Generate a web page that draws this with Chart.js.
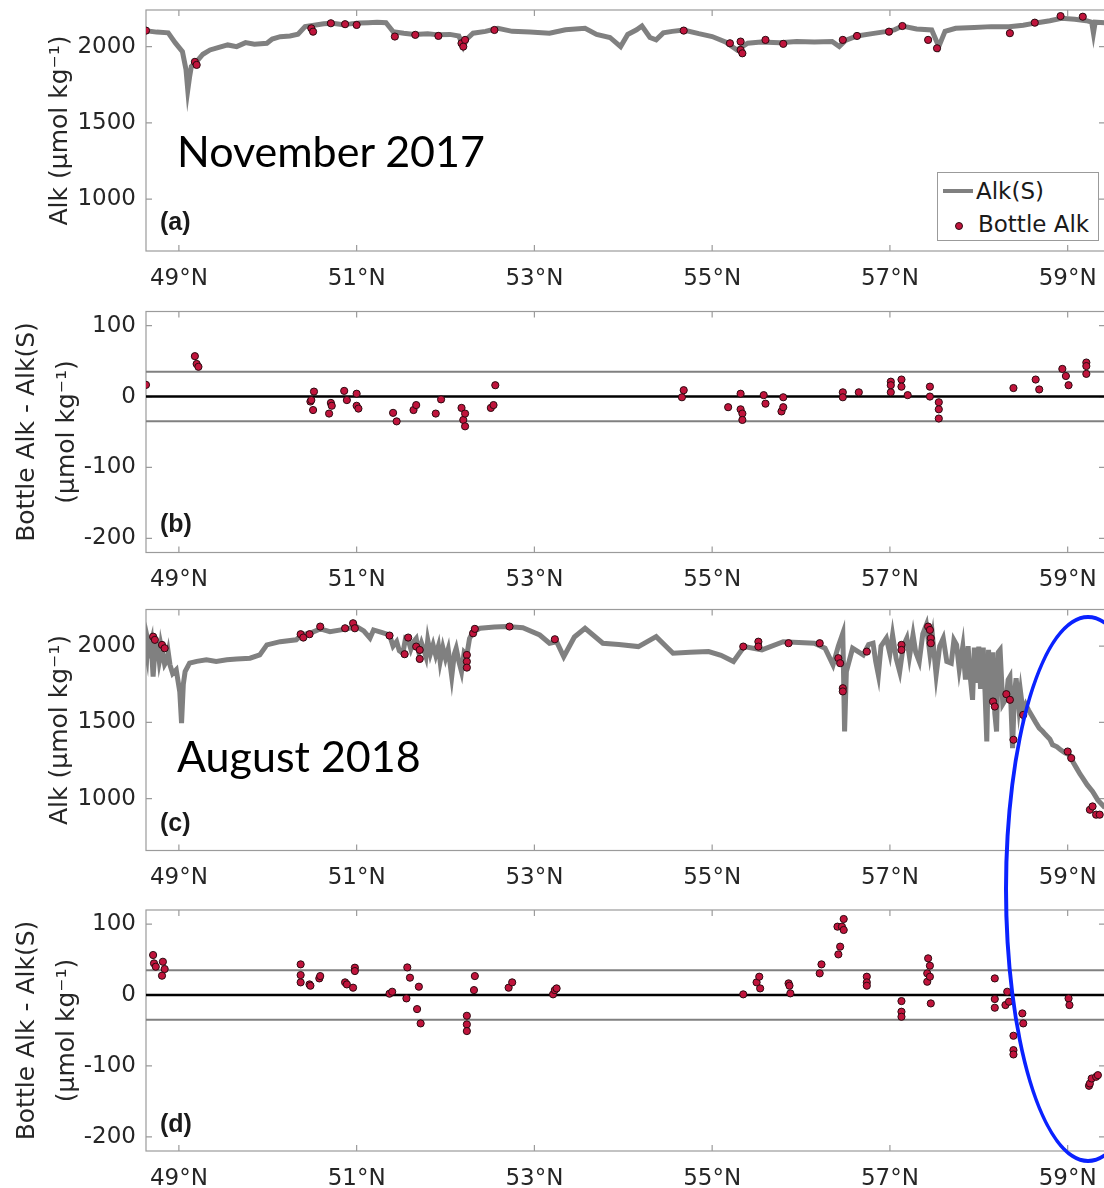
<!DOCTYPE html>
<html>
<head>
<meta charset="utf-8">
<script src="https://cdn.jsdelivr.net/npm/chart.js@4.4.1/dist/chart.umd.min.js"></script>
<style>
  html, body { margin: 0; padding: 0; background: #fff; overflow: hidden; width: 1104px; height: 1188px; }
  .panel { position: absolute; left: 0; width: 1120px; height: 300px; }
  .note { position: absolute; left: 177px; font-family: Lato, sans-serif; font-size: 43px; line-height: 1; color: #000; white-space: nowrap; }
  .tag { position: absolute; left: 160px; font-family: "Liberation Sans", Arial, sans-serif; font-weight: bold; font-size: 25px; line-height: 1; color: #1a1a1a; }
  .legend { position: absolute; left: 937px; top: 172px; width: 162px; height: 69px; box-sizing: border-box; border: 1px solid #9b9b9b; background: #fff;
            font-family: "DejaVu Sans", sans-serif; font-size: 23px; color: #1a1a1a; }
  .legend .row { position: absolute; white-space: nowrap; line-height: 1; }
  .legend .swatch { position: absolute; left: 5px; top: 16px; width: 30px; height: 4px; background: #808080; }
  .legend .dot { position: absolute; left: 17px; top: 49px; width: 6px; height: 6px; border-radius: 50%; background: #c0143c; border: 1px solid #2a0a10; }
  .ring { position: absolute; left: 1004px; top: 615px; width: 168px; height: 548px; box-sizing: border-box; border: 4px solid #0a22ff; border-radius: 50%; z-index: 5; }
</style>
</head>
<body>

<div class="panel" style="top:0px"><canvas id="panelA"></canvas></div>
<div class="panel" style="top:300px"><canvas id="panelB"></canvas></div>
<div class="panel" style="top:599px"><canvas id="panelC"></canvas></div>
<div class="panel" style="top:899px"><canvas id="panelD"></canvas></div>

<div class="note" style="top:129px">November 2017</div>
<div class="note" style="top:734px">August 2018</div>
<div class="tag" style="top:209px">(a)</div>
<div class="tag" style="top:511px">(b)</div>
<div class="tag" style="top:810px">(c)</div>
<div class="tag" style="top:1111px">(d)</div>

<div class="legend">
  <div class="swatch"></div>
  <div class="row" style="left:38px; top:7px">Alk(S)</div>
  <div class="dot"></div>
  <div class="row" style="left:40px; top:40px">Bottle Alk</div>
</div>

<div class="ring"></div>

<script>
// Ajustes globales
Chart.defaults.font.family = '"DejaVu Sans", sans-serif';
Chart.defaults.font.size = 23;
Chart.defaults.color = '#262626';
Chart.defaults.animation = false;

// Ejes
const latMin = 48.63, latMax = 59.42;
const latTicks = [49, 51, 53, 55, 57, 59];
const alkTicks = [1000, 1500, 2000];
const alkRange = [660, 2240];
const diffTicks = [-200, -100, 0, 100];
const diffRange = [-220, 120];
const zeroLine = [0, 0];
const bandUpper = [35, 35];
const bandLower = [-35, -35];
const lineEnds = [latMin, latMax];

// Noviembre 2017: Alk(S) a lo largo del transecto
const novLat = [48.62, 48.75, 48.88, 48.96, 49.04, 49.08, 49.10, 49.12, 49.14, 49.20, 49.27, 49.35, 49.45, 49.55, 49.65, 49.75, 49.85, 49.99,
  50.05, 50.14, 50.25, 50.34, 50.42, 50.54, 50.63, 50.73, 50.83, 50.93, 51.03, 51.13, 51.23, 51.33, 51.38, 51.41, 51.53, 51.65, 51.80,
  51.92, 52.05, 52.15, 52.20, 52.24, 52.31, 52.45, 52.59, 52.75, 52.95, 53.17, 53.35, 53.57, 53.70, 53.85, 53.97, 54.05, 54.15, 54.21,
  54.30, 54.37, 54.45, 54.55, 54.68, 54.85, 55.00, 55.15, 55.28, 55.40, 55.55, 55.76, 55.95, 56.15, 56.35, 56.43, 56.50, 56.63, 56.80,
  56.95, 57.05, 57.14, 57.30, 57.47, 57.55, 57.62, 57.74, 57.95, 58.14, 58.34, 58.50, 58.66, 58.80, 58.93, 59.08, 59.21, 59.27, 59.29,
  59.31, 59.42];
const novAlk = [2105, 2095, 2090, 2024, 1967, 1850, 1716, 1800, 1869, 1902, 1950, 1978, 1995, 2011, 2000, 2026, 2015, 2022,
  2050, 2065, 2070, 2081, 2131, 2142, 2150, 2153, 2145, 2149, 2155, 2157, 2160, 2157, 2120, 2098, 2088, 2080, 2085,
  2077, 2080, 2070, 2000, 2050, 2088, 2100, 2120, 2100, 2095, 2088, 2110, 2120, 2080, 2060, 2000, 2080, 2110, 2135,
  2060, 2044, 2090, 2100, 2109, 2085, 2066, 2030, 1978, 2022, 2030, 2026, 2033, 2030, 2033, 2000, 2040, 2070, 2085,
  2098, 2110, 2135, 2115, 2109, 2000, 2100, 2120, 2125, 2131, 2131, 2140, 2157, 2170, 2186, 2180, 2170, 2160, 2088,
  2160, 2157];

// Noviembre 2017: Alk de botella
const novBottleLat = [48.63, 49.18, 49.20, 50.49, 50.51, 50.71, 50.87, 51.00, 51.43, 51.66, 51.92, 52.18, 52.20, 52.22, 52.55,
  54.68, 55.20, 55.32, 55.32, 55.34, 55.60, 55.80, 56.47, 56.63, 56.99, 57.14, 57.43, 57.53, 58.35, 58.63, 58.92, 59.17];
const novBottleAlk = [2105, 1900, 1880, 2120, 2098, 2153, 2147, 2142, 2066, 2077, 2070, 2022, 2000, 2044, 2109,
  2105, 2022, 2033, 1978, 1956, 2044, 2018, 2044, 2070, 2098, 2135, 2044, 1989, 2088, 2157, 2200, 2196];

// Noviembre 2017: Alk de botella - Alk(S)
const novDiffLat = [48.63, 49.18, 49.20, 49.22, 50.48, 50.49, 50.51, 50.52, 50.69, 50.71, 50.72, 50.86, 50.89, 51.00, 51.00, 51.02,
  51.41, 51.45, 51.64, 51.67, 51.89, 51.95, 52.18, 52.20, 52.22, 52.22, 52.51, 52.54, 52.56, 54.66, 54.68, 55.18, 55.32, 55.32,
  55.34, 55.34, 55.58, 55.60, 55.78, 55.80, 55.80, 56.47, 56.47, 56.65, 57.01, 57.01, 57.01, 57.13, 57.13, 57.20, 57.45, 57.45,
  57.55, 57.55, 57.55, 58.39, 58.64, 58.68, 58.94, 58.98, 59.01, 59.21, 59.21, 59.21];
const novDiff = [16.5, 57, 46, 42, -7, -5, -19, 7, -24, -9, -13, 8, -5, 4, -13, -17,
  -23, -35, -19, -12, -24, -4, -16, -33, -24, -42, -16, -12, 16, -1, 9, -15, 4, -18,
  -24, -33, 2, -10, -21, -1, -15, 6, -1, 6, 21, 16, 6, 24, 14, 2, 14, 0,
  -8, -18, -31, 12, 24, 10, 39, 29, 16, 48, 43, 32];

// Agosto 2018: Alk(S) a lo largo del transecto
const augLat = [48.62, 48.64, 48.65, 48.67, 48.69, 48.70, 48.71, 48.73, 48.74, 48.76, 48.78, 48.79, 48.80, 48.82, 48.84, 48.86,
  48.88, 48.90, 48.93, 48.97, 49.01, 49.03, 49.05, 49.07,
  49.12, 49.20, 49.31, 49.42, 49.54, 49.65, 49.80, 49.91, 49.99, 50.14, 50.32, 50.38, 50.50, 50.59, 50.70, 50.89, 51.00, 51.08,
  51.15, 51.19, 51.28, 51.37, 51.41, 51.45, 51.48, 51.52, 51.55, 51.58, 51.61, 51.64, 51.67, 51.70, 51.73, 51.75, 51.78, 51.80,
  51.83, 51.86, 51.89, 51.92, 51.94, 51.97, 52.00, 52.03, 52.07, 52.10, 52.12, 52.15, 52.18, 52.21, 52.24, 52.27,
  52.31, 52.39, 52.55, 52.69, 52.87, 53.06, 53.17, 53.25, 53.33, 53.45, 53.57, 53.77, 53.95, 54.17, 54.37, 54.56, 54.75, 54.96,
  55.10, 55.24, 55.36, 55.56, 55.80, 56.15, 56.27, 56.36, 56.42, 56.47, 56.49, 56.51, 56.58,
  56.70, 56.76, 56.81, 56.84, 56.87, 56.90, 56.96, 57.00, 57.03, 57.07, 57.11, 57.15, 57.19, 57.22, 57.26, 57.29, 57.33, 57.37,
  57.41, 57.45, 57.48, 57.52, 57.56, 57.60, 57.64, 57.69, 57.72, 57.75, 57.78, 57.82, 57.85, 57.88, 57.90, 57.93, 57.95, 57.97,
  58.00, 58.02, 58.05, 58.07, 58.09, 58.11, 58.13, 58.16, 58.18, 58.20, 58.22, 58.24, 58.27, 58.31, 58.33, 58.35, 58.38, 58.40,
  58.42, 58.45, 58.47, 58.50, 58.53, 58.56, 58.60, 58.64, 58.68, 58.72, 58.75, 58.80, 58.83, 58.88, 58.92, 58.97, 59.02, 59.06,
  59.10, 59.14, 59.17, 59.22, 59.28, 59.34, 59.42];
const augAlk = [2008, 1940, 2040, 1986, 2030, 1900, 1800, 1964, 2030, 2010, 1900, 1930, 2000, 1942, 1880, 1900,
  1960, 1877, 1820, 1844, 1700, 1495, 1750, 1833,
  1888, 1900, 1910, 1900, 1910, 1915, 1921, 1942, 2008, 2029, 2041, 2073, 2090, 2113, 2095, 2113, 2128, 2100,
  2052, 2106, 2090, 2073, 2000, 2030, 1970, 1953, 2050, 2040, 1980, 2029, 2050, 1960, 2020, 1986, 1930, 2040,
  1950, 2008, 1940, 2000, 1899, 1990, 1920, 1980, 1800, 1950, 1986, 1900, 1833, 1960, 1942, 2050,
  2095, 2117, 2125, 2128, 2121, 2073, 2019, 2029, 1931, 2060, 2117, 2019, 2010, 1997, 2062, 1953, 1960, 1964,
  1940, 1899, 1997, 1975, 2029, 2019, 1986, 1877, 2000, 2084, 1440, 1833, 1986,
  1942, 2010, 2019, 1900, 1811, 2000, 2052, 1950, 2073, 1920, 1833, 2000, 2052, 1930, 2073, 1960, 1899, 2080,
  2139, 1950, 2060, 1811, 2000, 2052, 1900, 1888, 2040, 2008, 1850, 1997, 1780, 2000, 1820, 1648, 1990, 1760,
  1997, 1720, 1990, 1700, 1375, 1975, 1650, 1960, 1560, 1440, 1960, 1975, 1620, 1659, 1780, 1800, 1331, 1680,
  1790, 1600, 1700, 1560, 1615, 1580, 1540, 1500, 1462, 1440, 1420, 1390, 1353, 1340, 1320, 1300, 1287, 1240,
  1200, 1160, 1135, 1090, 1047, 990, 940];

// Agosto 2018: Alk de botella
const augBottleLat = [48.71, 48.73, 48.81, 48.84, 50.37, 50.40, 50.47, 50.59, 50.87, 50.96, 50.98, 51.37, 51.54, 51.58, 51.67,
  51.71, 51.71, 52.24, 52.24, 52.24, 52.31, 52.33, 52.72, 53.23, 55.35, 55.52, 55.52, 55.86, 56.21, 56.42, 56.44, 56.47, 56.47,
  56.74, 57.13, 57.13, 57.43, 57.45, 57.46, 57.46, 58.16, 58.18, 58.31, 58.35, 58.39, 58.50, 59.00, 59.04, 59.25, 59.28, 59.32, 59.36];
const augBottleAlk = [2062, 2041, 2008, 1986, 2078, 2056, 2078, 2128, 2117, 2150, 2117, 2069, 1947, 2056, 1997,
  1975, 1916, 1942, 1899, 1859, 2084, 2113, 2128, 2045, 1997, 2029, 1997, 2019, 2019, 1921, 1888, 1724, 1703,
  1964, 2008, 1975, 2128, 2106, 2052, 2019, 1637, 1604, 1685, 1648, 1386, 1549, 1309, 1266, 927, 949, 895, 895];

// Agosto 2018: Alk de botella - Alk(S)
const augDiffLat = [48.71, 48.72, 48.74, 48.81, 48.82, 48.84, 50.37, 50.37, 50.37, 50.47, 50.48, 50.58, 50.59, 50.87, 50.89, 50.96,
  50.98, 50.98, 51.37, 51.40, 51.56, 51.57, 51.60, 51.68, 51.70, 51.72, 52.24, 52.24, 52.24, 52.32, 52.33, 52.71, 52.75, 53.21,
  53.23, 53.25, 55.35, 55.50, 55.53, 55.54, 55.86, 55.87, 55.88, 56.21, 56.23, 56.42, 56.44, 56.41, 56.46, 56.48, 56.48, 56.74,
  56.74, 56.74, 57.13, 57.13, 57.13, 57.42, 57.42, 57.43, 57.45, 57.45, 57.46, 58.18, 58.18, 58.18, 58.30, 58.32, 58.34, 58.39,
  58.39, 58.39, 58.49, 58.50, 59.01, 59.02, 59.24, 59.25, 59.27, 59.32, 59.34];
const augDiff = [56.5, 44.7, 40, 27.3, 47, 36.7, 43.3, 28.2, 17.9, 15, 13.2, 23.5, 26.8, 17.9, 15, 10.4,
  38.6, 33.9, 1.9, 4.7, -4.7, 39, 24.5, -19.8, 11.8, -40, -29.2, -41.4, -50.8, 7, 26.8, 10.4, 17.9, 1,
  7, 9.4, 1, 17.9, 25.9, 9.4, 16.5, 13.2, 2.4, 30.6, 43.3, 57.4, 68.3, 96.5, 96.5, 107.3, 91.8, 25.9,
  17.9, 13.2, -8.5, -23.5, -30.6, 30.6, 18.8, 51.8, 41.4, 25.9, -11.8, 23.5, -5.6, -17.9, -14.1, 4.7, -9.4, -57.4,
  -77.7, -83.8, -25.9, -40, -4.7, -14.1, -128, -124.8, -117.7, -115.3, -113];

function pairs(xs, ys) {
  return xs.map((x, i) => ({ x: x, y: ys[i] }));
}

// Marco tipo Matlab con ticks hacia dentro
const frameTicks = {
  id: 'frameTicks',
  beforeDatasetsDraw(chart) {
    const { ctx, chartArea: a, scales } = chart;
    const len = 6;
    ctx.save();
    ctx.strokeStyle = '#9b9b9b';
    ctx.lineWidth = 1.2;
    ctx.strokeRect(a.left, a.top, a.right - a.left, a.bottom - a.top);
    ctx.beginPath();
    scales.x.ticks.forEach(t => {
      const px = scales.x.getPixelForValue(t.value);
      ctx.moveTo(px, a.bottom); ctx.lineTo(px, a.bottom - len);
      ctx.moveTo(px, a.top); ctx.lineTo(px, a.top + len);
    });
    scales.y.ticks.forEach(t => {
      const py = scales.y.getPixelForValue(t.value);
      ctx.moveTo(a.left, py); ctx.lineTo(a.left + len, py);
      ctx.moveTo(a.right, py); ctx.lineTo(a.right - len, py);
    });
    ctx.stroke();
    ctx.restore();
  }
};

function bottleSet(xs, ys) {
  return {
    data: pairs(xs, ys),
    order: 0,
    pointRadius: 3.6,
    pointBackgroundColor: '#c0143c',
    pointBorderColor: '#2a0a10',
    pointBorderWidth: 1
  };
}

function alkLine(xs, ys) {
  return { data: pairs(xs, ys), order: 1, showLine: true, borderColor: '#808080', borderWidth: 5, pointRadius: 0 };
}

function refLine(ys, color, width) {
  return {
    data: pairs(lineEnds, ys),
    order: 2,
    showLine: true,
    borderColor: color,
    borderWidth: width,
    pointRadius: 0
  };
}

function makePanel(id, opts) {
  new Chart(document.getElementById(id), {
    type: 'scatter',
    data: { datasets: opts.datasets },
    options: {
      responsive: true,
      maintainAspectRatio: false,
      layout: { padding: { top: opts.padTop, right: 15, left: 0, bottom: 0 } },
      plugins: { legend: { display: false }, tooltip: { enabled: false } },
      scales: {
        x: {
          type: 'linear',
          min: latMin,
          max: latMax,
          grid: { display: false, drawTicks: false },
          border: { display: false },
          afterBuildTicks: s => { s.ticks = latTicks.map(v => ({ value: v })); },
          afterFit: s => { s.height = opts.xHeight; s.paddingLeft = 0; s.paddingRight = 0; },
          ticks: { padding: 14, maxRotation: 0, callback: v => v + '°N' }
        },
        y: {
          min: opts.range[0],
          max: opts.range[1],
          grid: { display: false, drawTicks: false },
          border: { display: false },
          afterBuildTicks: s => { s.ticks = opts.ticks.map(v => ({ value: v })); },
          afterFit: s => { s.width = 146; s.paddingTop = 0; s.paddingBottom = 0; },
          ticks: { padding: 10, callback: v => String(v) },
          title: {
            display: true,
            text: opts.title,
            color: '#262626',
            font: { size: 25, lineHeight: opts.titleLine },
            padding: { top: opts.titlePad, bottom: 0 }
          }
        }
      }
    },
    plugins: [frameTicks]
  });
}

const alkTitle = 'Alk (μmol kg⁻¹)';
const diffTitle = ['Bottle Alk - Alk(S)', '(μmol kg⁻¹)'];

makePanel('panelA', {
  padTop: 10, xHeight: 49, range: alkRange, ticks: alkTicks,
  title: alkTitle, titleLine: 1.2, titlePad: 45,
  datasets: [bottleSet(novBottleLat, novBottleAlk), alkLine(novLat, novAlk)]
});

makePanel('panelB', {
  padTop: 11.5, xHeight: 47.5, range: diffRange, ticks: diffTicks,
  title: diffTitle, titleLine: 1.6, titlePad: 7,
  datasets: [
    bottleSet(novDiffLat, novDiff),
    refLine(zeroLine, '#000000', 2.5),
    refLine(bandUpper, '#808080', 2),
    refLine(bandLower, '#808080', 2)
  ]
});

makePanel('panelC', {
  padTop: 10.5, xHeight: 48.5, range: alkRange, ticks: alkTicks,
  title: alkTitle, titleLine: 1.2, titlePad: 45,
  datasets: [bottleSet(augBottleLat, augBottleAlk), alkLine(augLat, augAlk)]
});

makePanel('panelD', {
  padTop: 11, xHeight: 48, range: diffRange, ticks: diffTicks,
  title: diffTitle, titleLine: 1.6, titlePad: 7,
  datasets: [
    bottleSet(augDiffLat, augDiff),
    refLine(zeroLine, '#000000', 2.5),
    refLine(bandUpper, '#808080', 2),
    refLine(bandLower, '#808080', 2)
  ]
});
</script>
</body>
</html>
